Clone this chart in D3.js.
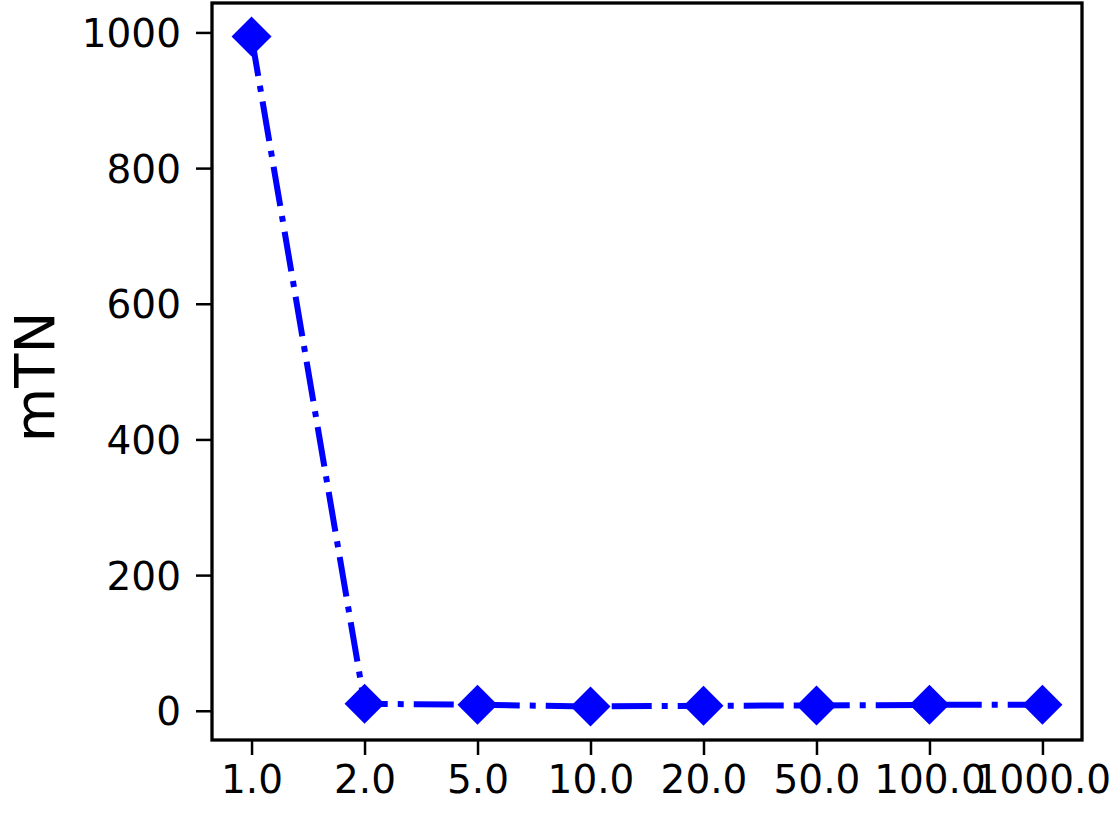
<!DOCTYPE html>
<html>
<head>
<meta charset="utf-8">
<script src="https://cdn.jsdelivr.net/npm/d3@7"></script>
<style>
  html, body { margin: 0; padding: 0; background: #fff; }
  text { font-family: "DejaVu Sans", sans-serif; fill: #000; }
</style>
</head>
<body>
<svg id="chart" width="1117" height="813"></svg>
<script>
// categories on the x axis and the single series
const categories = ["1.0", "2.0", "5.0", "10.0", "20.0", "50.0", "100.0", "1000.0"];
const mTN = [994, 10.3, 8.8, 6.3, 7.4, 7.8, 8.8, 8.8];
const yTicks = [0, 200, 400, 600, 800, 1000];

const svg = d3.select("#chart");
const box = {left: 212, right: 1082, top: 3, bottom: 740};

// matplotlib style 5% margins
const n = categories.length;
const x = d3.scaleLinear()
    .domain([-0.05 * (n - 1), (n - 1) * 1.05])
    .range([box.left, box.right]);

const ext = d3.extent(mTN);
const pad = (ext[1] - ext[0]) * 0.05;
const y = d3.scaleLinear()
    .domain([ext[0] - pad, ext[1] + pad])
    .range([box.bottom, box.top]);

const xAxis = d3.axisBottom(x)
    .tickValues(d3.range(n))
    .tickFormat(i => categories[i])
    .tickSize(15).tickPadding(10);

const yAxis = d3.axisLeft(y)
    .tickValues(yTicks)
    .tickFormat(d3.format("d"))
    .tickSize(16).tickPadding(15);

const gx = svg.append("g")
    .attr("transform", "translate(0," + box.bottom + ")")
    .call(xAxis);
const gy = svg.append("g")
    .attr("transform", "translate(" + box.left + ",0)")
    .call(yAxis);

[gx, gy].forEach(g => {
    g.select(".domain").remove();
    g.selectAll(".tick line").attr("stroke", "#000").attr("stroke-width", 2.5);
    g.selectAll(".tick text").style("font-size", "39px").attr("fill", "#000");
});
gy.selectAll(".tick text").attr("dy", "0.36em");

// frame
svg.append("rect")
    .attr("x", box.left).attr("y", box.top)
    .attr("width", box.right - box.left)
    .attr("height", box.bottom - box.top)
    .attr("fill", "none")
    .attr("stroke", "#000")
    .attr("stroke-width", 3.3);

// y label
svg.append("text")
    .attr("transform", "translate(54,377) rotate(-90)")
    .attr("text-anchor", "middle")
    .style("font-size", "56px")
    .text("mTN");

const line = d3.line()
    .x((d, i) => x(i))
    .y(d => y(d));

svg.append("path")
    .datum(mTN)
    .attr("d", line)
    .attr("fill", "none")
    .attr("stroke", "#0000ff")
    .attr("stroke-width", 6)
    .attr("stroke-dasharray", "40,10,6,10");

const diamond = d3.symbol(d3.symbolSquare, 800);
svg.append("g").selectAll("path")
    .data(mTN)
    .enter().append("path")
    .attr("d", diamond)
    .attr("transform", (d, i) => "translate(" + x(i) + "," + y(d) + ") rotate(45)")
    .attr("fill", "#0000ff");
</script>
</body>
</html>
